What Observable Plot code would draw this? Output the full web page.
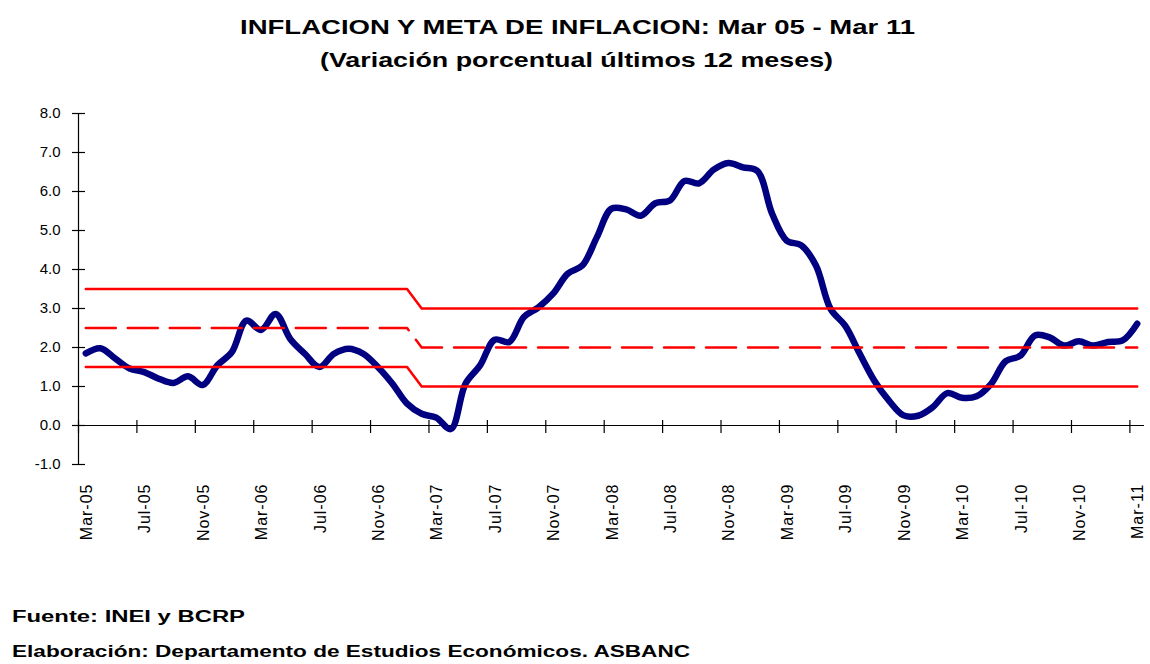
<!DOCTYPE html>
<html>
<head>
<meta charset="utf-8">
<script src="https://cdn.jsdelivr.net/npm/d3@7"></script>
<script src="https://cdn.jsdelivr.net/npm/@observablehq/plot@0.6"></script>
<style>
  html, body { margin: 0; padding: 0; background: #fff; }
  #wrap { position: relative; width: 1150px; height: 664px; overflow: hidden; background: #fff; }
  .txt { position: absolute; white-space: nowrap; font-family: "Liberation Sans", Arial, sans-serif; font-weight: bold; color: #000; transform-origin: left center; }
  .title { font-size: 20px; line-height: 24px; }
  .cap { font-size: 16px; line-height: 20px; }
  #chart { position: absolute; left: 0; top: 90px; }
</style>
</head>
<body>
<div id="wrap">
  <div id="t1" class="txt title" style="top:15px">INFLACION Y META DE INFLACION: Mar 05 - Mar 11</div>
  <div id="t2" class="txt title" style="top:48px">(Variación porcentual últimos 12 meses)</div>
  <div id="chart"></div>
  <div id="c1" class="txt cap" style="top:607px">Fuente: INEI y BCRP</div>
  <div id="c2" class="txt cap" style="top:642px">Elaboración: Departamento de Estudios Económicos. ASBANC</div>
</div>
<script>
// ---- data ----
const months = d3.utcMonths(new Date(Date.UTC(2005, 2, 1)), new Date(Date.UTC(2011, 3, 1))).map(d3.utcFormat("%b-%y"));
const inflation = [
  1.85, 1.98, 1.72, 1.46, 1.37, 1.20, 1.09, 1.26, 1.04, 1.54, 1.88, 2.69, 2.45,
  2.86, 2.22, 1.84, 1.50, 1.84, 1.97, 1.84, 1.50, 1.07, 0.56, 0.30, 0.20,
  -0.09, 1.07, 1.54, 2.20, 2.14, 2.78, 3.03, 3.38, 3.89, 4.10, 4.83, 5.56,
  5.54, 5.38, 5.70, 5.77, 6.27, 6.21, 6.56, 6.73, 6.62, 6.52, 5.43, 4.74,
  4.62, 4.10, 2.99, 2.56, 1.84, 1.15, 0.64, 0.26, 0.25, 0.47, 0.83, 0.71,
  0.75, 1.07, 1.65, 1.79, 2.31, 2.26, 2.05, 2.16, 2.05, 2.14, 2.18, 2.61
];
const bandMonths = ["Mar-05", "Jan-07", "Feb-07", "Mar-11"];
const metaUpper  = [3.5, 3.5, 3.0, 3.0];
const metaTarget = [2.5, 2.5, 2.0, 2.0];
const metaLower  = [1.5, 1.5, 1.0, 1.0];
const tickLabels = ["Mar-05","Jul-05","Nov-05","Mar-06","Jul-06","Nov-06","Mar-07","Jul-07","Nov-07",
                    "Mar-08","Jul-08","Nov-08","Mar-09","Jul-09","Nov-09","Mar-10","Jul-10","Nov-10","Mar-11"];
const yTicks = [-1, 0, 1, 2, 3, 4, 5, 6, 7, 8];

// ---- tables ----
const series = inflation.map((v, i) => ({i, month: months[i], v}));
const band = bandMonths.map((m, k) => ({i: months.indexOf(m), up: metaUpper[k], mid: metaTarget[k], lo: metaLower[k]}));
const labels = tickLabels.map(l => ({i: months.indexOf(l), label: l}));
const boundaries = labels.map(d => d.i - 0.5);

const chart = Plot.plot({
  width: 1150,
  height: 470,
  marginLeft: 78,
  marginRight: 6,
  marginTop: 23,
  marginBottom: 96,
  x: {domain: [-0.5, months.length - 0.5], axis: null},
  y: {domain: [-1, 8], axis: null},
  style: {fontFamily: "'Liberation Sans', Arial, sans-serif", fontSize: "15px", color: "#000", background: "#fff"},
  marks: [
    Plot.ruleY([0], {stroke: "#000", strokeWidth: 1.2}),
    Plot.ruleX([-0.5], {stroke: "#000", strokeWidth: 1.2}),
    Plot.axisY({ticks: yTicks, tickSize: 13, dx: 7, tickPadding: 12, tickFormat: d => d.toFixed(1),
                label: null, stroke: "#000", strokeWidth: 1.2, fontSize: 15}),
    Plot.axisX({ticks: boundaries, tickSize: 13, dy: -44, tickFormat: () => "", label: null,
                stroke: "#000", strokeWidth: 1.2}),
    Plot.text(labels, {x: "i", y: -1, text: "label", rotate: -90, textAnchor: "end", dy: 19, dx: 1, fontSize: 16, fill: "#000"}),
    Plot.line(series, {x: "i", y: "v", stroke: "#000080", strokeWidth: 6.5, curve: "catmull-rom", strokeLinejoin: "round", strokeLinecap: "round"}),
    Plot.line(band, {x: "i", y: "up", stroke: "#ff0000", strokeWidth: 2.5}),
    Plot.line(band, {x: "i", y: "mid", stroke: "#ff0000", strokeWidth: 2.5, strokeDasharray: "30,12"}),
    Plot.line(band, {x: "i", y: "lo", stroke: "#ff0000", strokeWidth: 2.5})
  ]
});
document.getElementById("chart").appendChild(chart);
d3.select(chart).selectAll('g[aria-label="text"] text').style("letter-spacing", "1px");

function fit(id, left, width) {
  const el = document.getElementById(id);
  el.style.left = left + "px";
  const w = el.getBoundingClientRect().width;
  el.style.transform = `scaleX(${width / w})`;
}
fit("t1", 240, 675);
fit("t2", 320, 513);
fit("c1", 12, 233);
fit("c2", 12, 678);
</script>
</body>
</html>
